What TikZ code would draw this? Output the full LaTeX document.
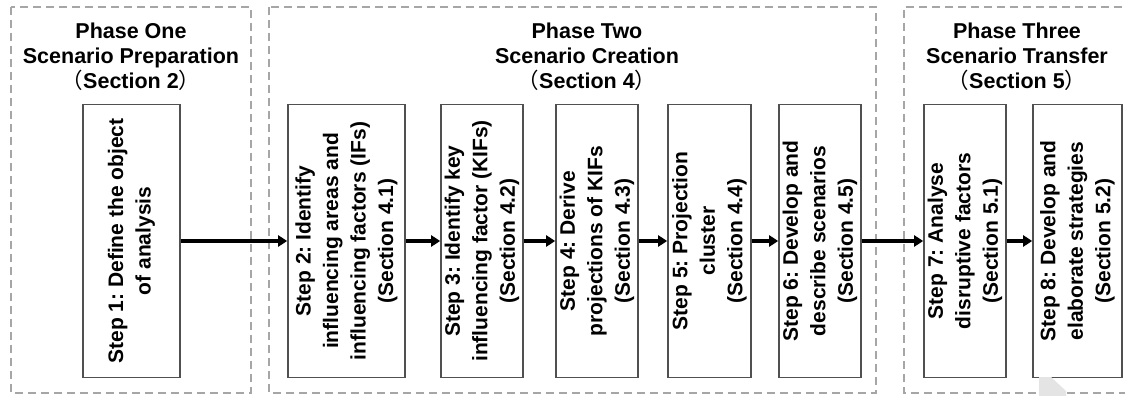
\documentclass[tikz,border=0pt]{standalone}
\usepackage{fontspec}
\setmainfont{Liberation Sans}
\newfontfamily\cjk{Noto Sans CJK SC}
\usetikzlibrary{arrows.meta}
\frenchspacing
\definecolor{phasegray}{HTML}{A6A6A6}
\definecolor{boxline}{HTML}{505050}
\definecolor{markgray}{HTML}{E4E4E4}
% full-width brackets used in the phase titles
\newcommand{\flp}{{\cjk\mdseries （}}
\newcommand{\frp}{{\cjk\mdseries ）}}
\begin{document}
\begin{tikzpicture}[x=1pt,y=-1pt,
  phase/.style={draw=phasegray, dash pattern=on 8pt off 5pt, line width=1.5pt},
  stepbox/.style={draw=boxline, line width=1.6pt, rotate=90, align=center,
    font=\fontsize{21}{27.5}\selectfont\bfseries, inner sep=0pt,
    minimum width=273pt},
  title/.style={align=center, font=\fontsize{21.5}{25}\selectfont\bfseries},
  flow/.style={line width=3.2pt, -{Triangle[length=9pt,width=11pt]}}]

\useasboundingbox (0,0) rectangle (1125,396);

% phase frames
\draw[phase] (11,7) rectangle (251,393);
\draw[phase] (269,7) rectangle (876,393);
\draw[phase] (1135,7) -- (904,7) -- (904,393) -- (1135,393);

% phase titles
\node[title] (p1) at (131,57) {Phase One\\Scenario Preparation\\\flp Section 2\frp};
\node[title] (p2) at (587,57) {Phase Two\\Scenario Creation\\\flp Section 4\frp};
\node[title] (p3) at (1017,57) {Phase Three\\Scenario Transfer\\\flp Section 5\frp};

% steps
\node[stepbox, minimum height=97pt] (s1) at (131.5,241) {Step 1: Define the object\\of analysis};
\node[stepbox, minimum height=117pt] (s2) at (346.5,241) {Step 2: Identify\\influencing areas and\\influencing factors (IFs)\\(Section 4.1)};
\node[stepbox, minimum height=82pt] (s3) at (482,241) {Step 3: Identify key\\influencing factor (KIFs)\\(Section 4.2)};
\node[stepbox, minimum height=82pt] (s4) at (597,241) {Step 4: Derive\\projections of KIFs\\(Section 4.3)};
\node[stepbox, minimum height=83pt] (s5) at (709.5,241) {Step 5: Projection\\cluster\\(Section 4.4)};
\node[stepbox, minimum height=82pt] (s6) at (820,241) {Step 6: Develop and\\describe scenarios\\(Section 4.5)};
\node[stepbox, minimum height=82pt] (s7) at (965,241) {Step 7: Analyse\\disruptive factors\\(Section 5.1)};
\node[stepbox, minimum height=89pt] (s8) at (1077.5,241) {Step 8: Develop and\\elaborate strategies\\(Section 5.2)};

% flow between steps
\draw[flow] (s1.south) -- (s2.north);
\draw[flow] (s2.south) -- (s3.north);
\draw[flow] (s3.south) -- (s4.north);
\draw[flow] (s4.south) -- (s5.north);
\draw[flow] (s5.south) -- (s6.north);
\draw[flow] (s6.south) -- (s7.north);
\draw[flow] (s7.south) -- (s8.north);

% faint mark at the lower right
\fill[markgray] (1039,377) -- (1051,377) -- (1066,391) -- (1066,396) -- (1039,396) -- cycle;
\end{tikzpicture}
\end{document}
